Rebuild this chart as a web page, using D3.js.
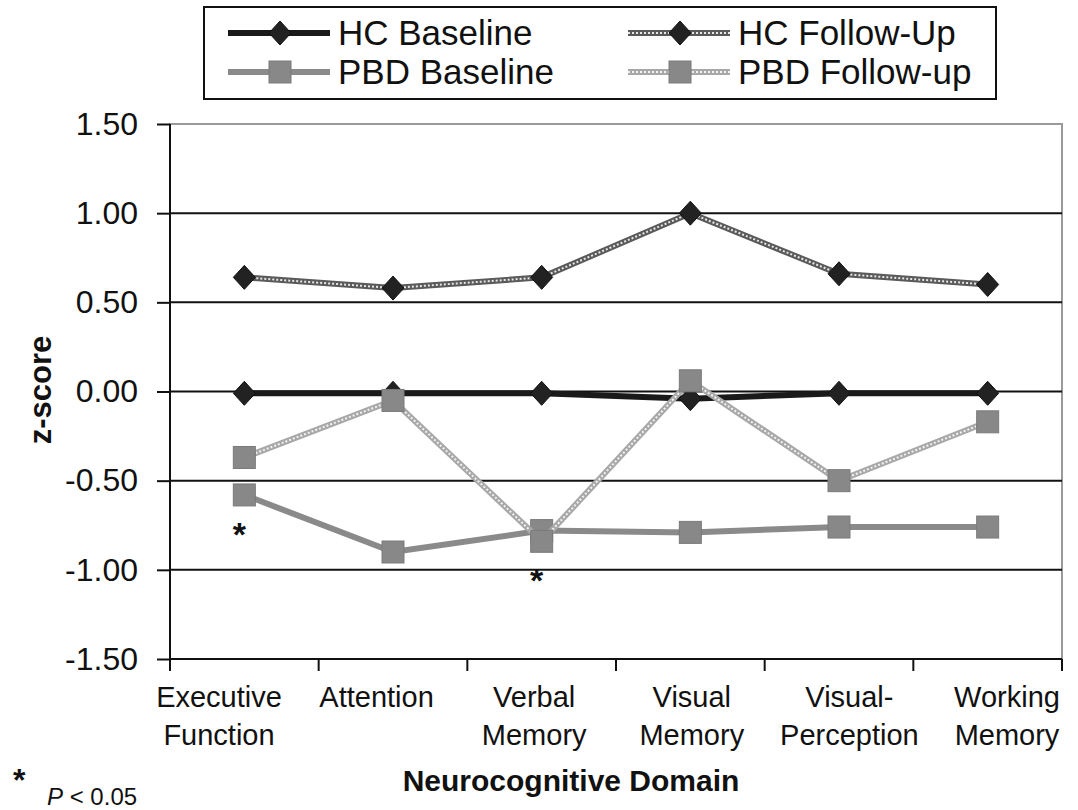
<!DOCTYPE html>
<html>
<head>
<meta charset="utf-8">
<script src="https://cdn.jsdelivr.net/npm/d3@7"></script>
<style>
  body { margin: 0; background: #fff; }
  text { font-family: Arial, "Liberation Sans", sans-serif; }
</style>
</head>
<body>
<script>
// categories and series values
var categories = [
  "Executive Function",
  "Attention",
  "Verbal Memory",
  "Visual Memory",
  "Visual-Perception",
  "Working Memory"
];
var categoryLines = [
  ["Executive", "Function"],
  ["Attention"],
  ["Verbal", "Memory"],
  ["Visual", "Memory"],
  ["Visual-", "Perception"],
  ["Working", "Memory"]
];

var hcBaseline = [-0.01, -0.01, -0.01, -0.04, -0.01, -0.01];
var hcFollowUp = [0.64, 0.58, 0.64, 1.0, 0.66, 0.6];
var pbdBaseline = [-0.58, -0.9, -0.78, -0.79, -0.76, -0.76];
var pbdFollowUp = [-0.37, -0.05, -0.84, 0.06, -0.5, -0.17];

var seriesNames = ["HC Baseline", "HC Follow-Up", "PBD Baseline", "PBD Follow-up"];
var yTicks = [-1.5, -1.0, -0.5, 0, 0.5, 1.0, 1.5];
var gridTicks = [-1.0, -0.5, 0, 0.5, 1.0];
// asterisks: index of category and the lowest point there
var sigIndex = [0, 2];
var sigSeries = [pbdBaseline, pbdFollowUp];

var w = 1078;
var h = 810;
var plotLeft = 170;
var plotRight = 1062;
var plotTop = 124;
var plotBottom = 659;

var svg = d3
  .select("body")
  .append("svg")
  .attr("width", w)
  .attr("height", h);

var xScale = d3
  .scaleBand()
  .domain(categories)
  .range([plotLeft, plotRight]);

// Excel spreads the wrapped labels a little wider than the plot bands
var labelScale = d3
  .scalePoint()
  .domain(categories)
  .range([plotLeft + 49, plotRight - 55]);

var yScale = d3
  .scaleLinear()
  .domain([-1.5, 1.5])
  .range([plotBottom, plotTop]);

function cx(d, i) {
  return xScale(categories[i]) + xScale.bandwidth() / 2;
}

//plot area border (grey top and right)
svg
  .append("rect")
  .attr("x", plotLeft)
  .attr("y", plotTop)
  .attr("width", plotRight - plotLeft)
  .attr("height", plotBottom - plotTop)
  .attr("fill", "none")
  .attr("stroke", "#9a9a9a")
  .attr("stroke-width", 2);

//gridlines
svg
  .selectAll(".grid")
  .data(gridTicks)
  .enter()
  .append("line")
  .attr("class", "grid")
  .attr("x1", plotLeft)
  .attr("x2", plotRight)
  .attr("y1", function(d) { return yScale(d); })
  .attr("y2", function(d) { return yScale(d); })
  .attr("stroke", "#111")
  .attr("stroke-width", 2);

//y axis (plain hyphen for negatives, like Excel)
var fmt = d3.format(".2f");
var yAxis = d3
  .axisLeft(yScale)
  .tickValues(yTicks)
  .tickFormat(function(d) { return fmt(d).replace("\u2212", "-"); })
  .tickSize(13)
  .tickPadding(19);

var yg = svg
  .append("g")
  .attr("transform", "translate(" + plotLeft + ",0)")
  .call(yAxis);
yg.selectAll("path, line").attr("stroke", "#111").attr("stroke-width", 2);
yg.select(".domain").attr("d", "M0," + plotTop + "V" + plotBottom);
yg.selectAll("text")
  .attr("font-size", 32)
  .attr("fill", "#111")
  .attr("font-family", "Arial, 'Liberation Sans', sans-serif");

//x axis, ticks between categories
var xTickPos = categories.map(function(c) { return xScale(c); }).concat([plotRight]);
svg
  .append("line")
  .attr("x1", plotLeft)
  .attr("x2", plotRight)
  .attr("y1", plotBottom)
  .attr("y2", plotBottom)
  .attr("stroke", "#111")
  .attr("stroke-width", 2);
svg
  .selectAll(".xtick")
  .data(xTickPos)
  .enter()
  .append("line")
  .attr("class", "xtick")
  .attr("x1", function(d) { return d; })
  .attr("x2", function(d) { return d; })
  .attr("y1", plotBottom)
  .attr("y2", plotBottom + 12)
  .attr("stroke", "#111")
  .attr("stroke-width", 2);

//category labels
var lab = svg
  .selectAll(".xlabel")
  .data(categories)
  .enter()
  .append("text")
  .attr("class", "xlabel")
  .attr("text-anchor", "middle")
  .attr("font-size", 29)
  .attr("fill", "#111");
lab
  .selectAll("tspan")
  .data(function(d, i) {
    return categoryLines[i].map(function(t) { return { t: t, x: labelScale(d) }; });
  })
  .enter()
  .append("tspan")
  .attr("x", function(d) { return d.x; })
  .attr("y", function(d, j) { return 707 + j * 38; })
  .text(function(d) { return d.t; });

//axis titles
svg
  .append("text")
  .attr("x", 571)
  .attr("y", 791)
  .attr("text-anchor", "middle")
  .attr("font-size", 30)
  .attr("font-weight", "bold")
  .attr("fill", "#111")
  .text("Neurocognitive Domain");

svg
  .append("text")
  .attr("transform", "translate(51,390) rotate(-90)")
  .attr("text-anchor", "middle")
  .attr("font-size", 31)
  .attr("font-weight", "bold")
  .attr("fill", "#111")
  .text("z-score");

//footnote
svg
  .append("text")
  .attr("x", 13)
  .attr("y", 791)
  .attr("font-size", 32)
  .attr("font-weight", "bold")
  .attr("fill", "#111")
  .text("*");
var foot = svg
  .append("text")
  .attr("x", 47)
  .attr("y", 805)
  .attr("font-size", 24)
  .attr("fill", "#111");
foot.append("tspan").attr("font-style", "italic").text("P");
foot.append("tspan").text(" < 0.05");

//line styles
var styles = [
  { line: "#1a1a1a", inner: null, marker: "diamond", fill: "#222", edge: "#111" },
  { line: "#5a5a5a", inner: "#e6e6e6", marker: "diamond", fill: "#222", edge: "#111" },
  { line: "#8a8a8a", inner: null, marker: "square", fill: "#888", edge: "#7a7a7a" },
  { line: "#a8a8a8", inner: "#f2f2f2", marker: "square", fill: "#888", edge: "#7a7a7a" }
];
var allSeries = [hcBaseline, hcFollowUp, pbdBaseline, pbdFollowUp];

var line = d3
  .line()
  .x(cx)
  .y(function(d) { return yScale(d); });

function drawMarker(g, kind, st) {
  if (kind == "diamond") {
    g.append("path")
      .attr("d", "M0,-12L11,0L0,12L-11,0Z")
      .attr("fill", st.fill)
      .attr("stroke", st.edge)
      .attr("stroke-width", 1);
  } else {
    g.append("rect")
      .attr("x", -11)
      .attr("y", -11)
      .attr("width", 22)
      .attr("height", 22)
      .attr("fill", st.fill)
      .attr("stroke", st.edge)
      .attr("stroke-width", 1);
  }
}

allSeries.forEach(function(data, s) {
  var st = styles[s];
  var g = svg.append("g");
  g.append("path")
    .attr("d", line(data))
    .attr("fill", "none")
    .attr("stroke", st.line)
    .attr("stroke-width", 6);
  if (st.inner) {
    g.append("path")
      .attr("d", line(data))
      .attr("fill", "none")
      .attr("stroke", st.inner)
      .attr("stroke-width", 2)
      .attr("stroke-dasharray", "2,2");
  }
  g.selectAll(".pt")
    .data(data)
    .enter()
    .append("g")
    .attr("class", "pt")
    .attr("transform", function(d, i) {
      return "translate(" + cx(d, i) + "," + yScale(d) + ")";
    })
    .each(function() {
      drawMarker(d3.select(this), st.marker, st);
    });
});

//significance asterisks, below the lowest marker of that domain
svg
  .selectAll(".sig")
  .data(sigIndex)
  .enter()
  .append("text")
  .attr("class", "sig")
  .attr("x", function(d) { return cx(0, d) - 5; })
  .attr("y", function(d, i) { return yScale(sigSeries[i][d]) + 51; })
  .attr("text-anchor", "middle")
  .attr("font-size", 34)
  .attr("font-weight", "bold")
  .attr("fill", "#111")
  .text("*");

//legend
var lg = svg.append("g");
lg.append("rect")
  .attr("x", 204)
  .attr("y", 7)
  .attr("width", 792)
  .attr("height", 92)
  .attr("fill", "#fff")
  .attr("stroke", "#111")
  .attr("stroke-width", 2);

var legX = [228, 628, 228, 628];
var legY = [33, 33, 72, 72];
seriesNames.forEach(function(name, s) {
  var st = styles[s];
  var item = lg.append("g").attr("transform", "translate(" + legX[s] + "," + legY[s] + ")");
  item.append("line")
    .attr("x1", 0)
    .attr("x2", 102)
    .attr("stroke", st.line)
    .attr("stroke-width", 6);
  if (st.inner) {
    item.append("line")
      .attr("x1", 0)
      .attr("x2", 102)
      .attr("stroke", st.inner)
      .attr("stroke-width", 2)
      .attr("stroke-dasharray", "2,2");
  }
  drawMarker(item.append("g").attr("transform", "translate(52,0)"), st.marker, st);
  item.append("text")
    .attr("x", 110)
    .attr("y", 12)
    .attr("font-size", 35)
    .attr("fill", "#111")
    .text(name);
});
</script>
</body>
</html>
